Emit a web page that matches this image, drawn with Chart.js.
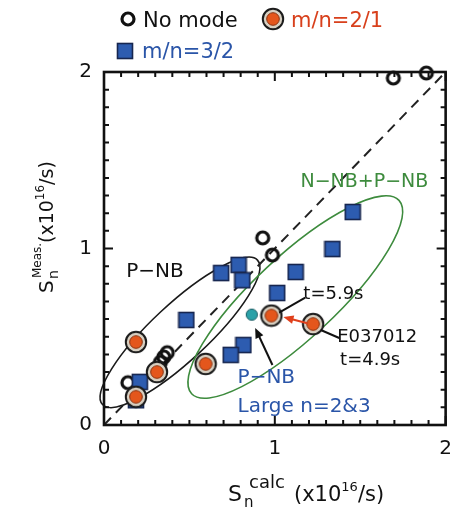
<!DOCTYPE html>
<html>
<head>
<meta charset="utf-8">
<script src="https://cdn.jsdelivr.net/npm/chart.js@4.4.1/dist/chart.umd.min.js"></script>
<style>
  html, body { margin: 0; padding: 0; background: #fff; }
  #wrap { width: 464px; height: 507px; }
</style>
</head>
<body>
<div id="wrap"><canvas id="c"></canvas></div>
<script>
// values (units of 1e16 /s)
const noModeX = [1.694, 1.887, 0.929, 0.986, 0.37, 0.35, 0.33, 0.14];
const noModeY = [1.966, 1.994, 1.06, 0.963, 0.41, 0.385, 0.355, 0.24];

const m21X = [0.187, 0.31, 0.187, 0.595, 0.98, 1.224];
const m21Y = [0.47, 0.30, 0.16, 0.346, 0.62, 0.572];

const m32X = [1.456, 1.337, 1.122, 0.788, 0.686, 0.81, 1.014, 0.816, 0.742, 0.482, 0.21, 0.187];
const m32Y = [1.207, 0.997, 0.867, 0.907, 0.861, 0.82, 0.748, 0.453, 0.397, 0.595, 0.244, 0.14];

const largeNX = [0.865];
const largeNY = [0.625];

const diagX = [0, 2];
const diagY = [0, 2];

const axisTicks = [0, 1, 2];

const FONT = "'DejaVu Sans', 'Liberation Sans', sans-serif";

const pts = (xs, ys) => xs.map((x, i) => ({ x, y: ys[i] }));

/* marker sprites */
function sprite(size, draw) {
  const c = document.createElement('canvas');
  c.width = c.height = size;
  draw(c.getContext('2d'), size / 2);
  return c;
}
const openDot = sprite(18, (g, m) => {
  g.beginPath(); g.arc(m, m, 6, 0, Math.PI * 2);
  g.lineWidth = 3.2; g.strokeStyle = '#111'; g.stroke();
});
const ringDot = sprite(24, (g, m) => {
  g.beginPath(); g.arc(m, m, 10.2, 0, Math.PI * 2);
  g.fillStyle = '#d8d0c2'; g.fill();
  g.lineWidth = 2; g.strokeStyle = '#1c1c1c'; g.stroke();
  g.beginPath(); g.arc(m, m, 6.3, 0, Math.PI * 2);
  g.fillStyle = '#e4561c'; g.fill();
  g.lineWidth = 1; g.strokeStyle = '#8a3412'; g.stroke();
});
const squareDot = sprite(18, (g) => {
  g.fillStyle = '#2d5cb0'; g.fillRect(1.5, 1.5, 15, 15);
  g.lineWidth = 1.6; g.strokeStyle = '#17264f'; g.strokeRect(1.5, 1.5, 15, 15);
});
const tealDot = sprite(14, (g, m) => {
  g.beginPath(); g.arc(m, m, 5.6, 0, Math.PI * 2);
  g.fillStyle = '#2ba1a8'; g.fill();
  g.lineWidth = 1; g.strokeStyle = '#1d5e66'; g.stroke();
});

/* annotation geometry (data units) */
const ELLIPSES = [
  { cx: 0.445, cy: 0.525, a: 0.62, b: 0.165, angle: 43, color: '#1a1a1a' },
  { cx: 1.12, cy: 0.725, a: 0.83, b: 0.24, angle: 43, color: '#3d8b3d' },
];
const LEADERS = [
  { from: [1.025, 0.637], to: [1.178, 0.722], color: '#111', head: false },
  { from: [1.269, 0.538], to: [1.377, 0.493], color: '#111', head: false },
  { from: [1.19, 0.576], to: [1.05, 0.612], color: '#e0401c', head: true },
  { from: [0.986, 0.34], to: [0.885, 0.55], color: '#111', head: true },
];
const NOTES = [
  { t: 't=5.9s', x: 1.167, y: 0.742, size: 18, color: '#111' },
  { t: 'E037012', x: 1.365, y: 0.499, size: 18, color: '#111' },
  { t: 't=4.9s', x: 1.382, y: 0.368, size: 18, color: '#111' },
  { t: 'P\u2212NB', x: 0.13, y: 0.867, size: 20, color: '#111' },
  { t: 'N\u2212NB+P\u2212NB', x: 1.15, y: 1.377, size: 19, color: '#3d8b3d' },
  { t: 'P\u2212NB', x: 0.782, y: 0.266, size: 20, color: '#2a55a8' },
  { t: 'Large n=2&3', x: 0.782, y: 0.102, size: 20, color: '#2a55a8' },
];

function richText(ctx, parts, x, y) {
  let cx = x;
  parts.forEach((p) => {
    ctx.font = p.size + 'px ' + FONT;
    const px = p.at !== undefined ? x + p.at : cx;
    ctx.fillText(p.t, px, y + (p.dy || 0));
    cx = px + ctx.measureText(p.t).width;
  });
}

const decor = {
  id: 'decor',
  beforeDatasetsDraw(chart) {
    const { ctx, scales: { x, y } } = chart;
    const unit = x.getPixelForValue(1) - x.getPixelForValue(0);
    ctx.save();
    ELLIPSES.forEach((e) => {
      ctx.beginPath();
      ctx.ellipse(x.getPixelForValue(e.cx), y.getPixelForValue(e.cy), e.a * unit, e.b * unit,
        -e.angle * Math.PI / 180, 0, Math.PI * 2);
      ctx.lineWidth = 1.6; ctx.strokeStyle = e.color; ctx.stroke();
    });
    ctx.restore();
  },
  afterDatasetsDraw(chart) {
    const { ctx, chartArea: a, scales: { x, y } } = chart;
    ctx.save();
    // frame + inward ticks
    ctx.strokeStyle = '#111';
    ctx.lineWidth = 2.6;
    ctx.strokeRect(a.left, a.top, a.right - a.left, a.bottom - a.top);
    ctx.lineWidth = 2;
    for (let i = 0; i <= 20; i++) {
      const v = i / 10;
      const len = i % 10 === 0 ? 9 : 5;
      const px = x.getPixelForValue(v), py = y.getPixelForValue(v);
      ctx.beginPath();
      ctx.moveTo(px, a.bottom); ctx.lineTo(px, a.bottom - len);
      ctx.moveTo(px, a.top); ctx.lineTo(px, a.top + len);
      ctx.moveTo(a.left, py); ctx.lineTo(a.left + len, py);
      ctx.moveTo(a.right, py); ctx.lineTo(a.right - len, py);
      ctx.stroke();
    }
    // leaders and arrows
    LEADERS.forEach((l) => {
      const x1 = x.getPixelForValue(l.from[0]), y1 = y.getPixelForValue(l.from[1]);
      const x2 = x.getPixelForValue(l.to[0]), y2 = y.getPixelForValue(l.to[1]);
      ctx.strokeStyle = l.color; ctx.fillStyle = l.color; ctx.lineWidth = 2;
      const ang = Math.atan2(y2 - y1, x2 - x1);
      const back = l.head ? 7 : 0;
      ctx.beginPath(); ctx.moveTo(x1, y1);
      ctx.lineTo(x2 - back * Math.cos(ang), y2 - back * Math.sin(ang)); ctx.stroke();
      if (l.head) {
        ctx.beginPath();
        ctx.moveTo(x2, y2);
        ctx.lineTo(x2 - 11 * Math.cos(ang - 0.4), y2 - 11 * Math.sin(ang - 0.4));
        ctx.lineTo(x2 - 11 * Math.cos(ang + 0.4), y2 - 11 * Math.sin(ang + 0.4));
        ctx.closePath(); ctx.fill();
      }
    });
    // notes
    ctx.textBaseline = 'middle';
    NOTES.forEach((n) => {
      ctx.font = n.size + 'px ' + FONT;
      ctx.fillStyle = n.color;
      ctx.fillText(n.t, x.getPixelForValue(n.x), y.getPixelForValue(n.y));
    });
    ctx.restore();
  },
  afterDraw(chart) {
    const { ctx } = chart;
    ctx.save();
    ctx.fillStyle = '#111';
    ctx.textBaseline = 'alphabetic';
    // x title
    richText(ctx, [
      { t: 'S', size: 22 },
      { t: 'n', size: 15, dy: 6, at: 16 },
      { t: 'calc', size: 18, dy: -13, at: 21 },
      { t: '(x10', size: 21, at: 66 },
      { t: '16', size: 13, dy: -10 },
      { t: '/s)', size: 21, dy: 0 },
    ], 228, 501);
    // y title (rotated)
    ctx.save();
    ctx.translate(53, 293);
    ctx.rotate(-Math.PI / 2);
    richText(ctx, [
      { t: 'S', size: 20 },
      { t: 'n', size: 14, dy: 5, at: 14 },
      { t: 'Meas.', size: 12, dy: -12, at: 15 },
      { t: '(x10', size: 19, at: 50 },
      { t: '16', size: 12, dy: -9 },
      { t: '/s)', size: 19 },
    ], 0, 0);
    ctx.restore();
    // legend
    ctx.drawImage(openDot, 128 - 9, 19 - 9);
    ctx.drawImage(ringDot, 273 - 12, 19 - 12);
    ctx.drawImage(squareDot, 125 - 9, 51 - 9);
    ctx.font = '21px ' + FONT;
    ctx.fillStyle = '#111'; ctx.fillText('No mode', 143, 27);
    ctx.fillStyle = '#d8401c'; ctx.fillText('m/n=2/1', 291, 27);
    ctx.fillStyle = '#2a55a8'; ctx.fillText('m/n=3/2', 142, 58);
    ctx.restore();
  },
};

new Chart(document.getElementById('c'), {
  type: 'scatter',
  data: {
    datasets: [
      { label: 'm/n=2/1', data: pts(m21X, m21Y), pointStyle: ringDot, pointRadius: 8, order: 0, clip: false },
      { label: 'P-NB large n=2&3', data: pts(largeNX, largeNY), pointStyle: tealDot, pointRadius: 6, order: 1, clip: false },
      { label: 'm/n=3/2', data: pts(m32X, m32Y), pointStyle: squareDot, pointRadius: 8, order: 2, clip: false },
      { label: 'No mode', data: pts(noModeX, noModeY), pointStyle: openDot, pointRadius: 8, order: 3, clip: false },
      { type: 'line', label: 'y = x', data: pts(diagX, diagY), borderColor: '#222', borderWidth: 2,
        borderDash: [10, 7], pointRadius: 0, order: 10 },
    ],
  },
  options: {
    responsive: true,
    maintainAspectRatio: false,
    animation: false,
    layout: { padding: { left: 0, right: 7, top: 72, bottom: 0 } },
    plugins: { legend: { display: false }, tooltip: { enabled: false } },
    scales: {
      x: {
        type: 'linear', min: 0, max: 2,
        afterBuildTicks: (s) => { s.ticks = axisTicks.map((v) => ({ value: v })); },
        afterFit: (s) => { s.height = 82; },
        grid: { display: true, drawOnChartArea: false, drawTicks: false },
        border: { display: false },
        ticks: { color: '#111', padding: 12, font: { family: FONT, size: 20 } },
      },
      y: {
        type: 'linear', min: 0, max: 2,
        afterBuildTicks: (s) => { s.ticks = axisTicks.map((v) => ({ value: v })); },
        afterFit: (s) => { s.width = 104; },
        grid: { display: true, drawOnChartArea: false, drawTicks: false },
        border: { display: false },
        ticks: { color: '#111', padding: 12, font: { family: FONT, size: 20 } },
      },
    },
  },
  plugins: [decor],
});
</script>
</body>
</html>
